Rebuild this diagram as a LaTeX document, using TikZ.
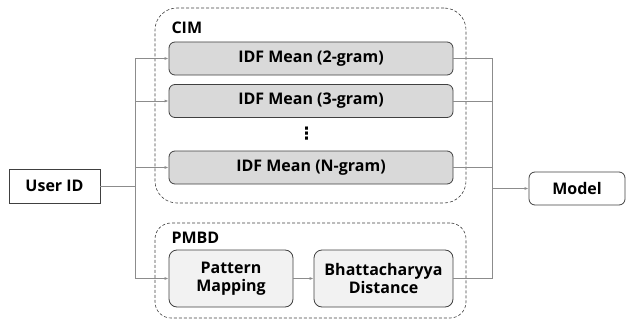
\documentclass[tikz,border=0pt]{standalone}
\usepackage{fontspec}
\setmainfont{Open Sans}
\newfontfamily\symfont{DejaVu Sans}
\usepackage{tikz}
\usetikzlibrary{arrows.meta,calc,positioning}

\definecolor{wiregray}{HTML}{8C8C8C}
\definecolor{edgegray}{HTML}{404040}
\definecolor{darkfill}{HTML}{D9D9D9}
\definecolor{lightfill}{HTML}{F2F2F2}

\begin{document}
\begin{tikzpicture}[x=1pt,y=-1pt,
  font=\fontsize{16}{18}\selectfont\bfseries,
  plain/.style={draw=edgegray,line width=0.8pt,minimum width=91pt,minimum height=34pt,inner sep=0pt},
  idfbox/.style={draw=edgegray,line width=0.8pt,fill=darkfill,rounded corners=6pt,minimum width=284pt,minimum height=33pt,inner sep=0pt},
  stepbox/.style={draw=edgegray,line width=0.8pt,fill=lightfill,rounded corners=8pt,minimum height=57pt,inner sep=0pt,align=center},
  group/.style={draw=edgegray,densely dashed,line width=0.6pt,minimum width=311pt,inner sep=0pt},
  wire/.style={draw=wiregray,line width=0.8pt},
  link/.style={wire,-{Latex[length=4pt,width=3pt]}}]
\useasboundingbox (0,0) rectangle (626,321);
% containers
\node[group,rounded corners=22pt,minimum height=195pt] (cim) at (310.5,105.5) {};
\node[group,rounded corners=16pt,minimum height=95pt] (pmbd) at (310.5,270.5) {};
\node[anchor=west] (cimlabel) at (168,28) {CIM};
\node[anchor=west] (pmbdlabel) at (168,238) {PMBD};
% blocks
\node[plain] (uid) at (54.5,186) {User ID};
\node[idfbox] (idf2) at (311,58.5) {IDF Mean (2-gram)};
\node[idfbox] (idf3) at (311,101) {IDF Mean (3-gram)};
\node[font=\symfont\fontsize{17}{17}\selectfont\bfseries] (dots) at (306.5,134) {⋮};
\node[idfbox] (idfn) at (311,167.5) {IDF Mean (N-gram)};
\node[stepbox,minimum width=124pt] (pm) at (231,278.5) {Pattern\\Mapping};
\node[stepbox,minimum width=139pt] (bd) at (383.5,278.5) {Bhattacharyya\\Distance};
\node[plain,rounded corners=6pt,minimum width=96pt,minimum height=33pt] (model) at (577,188.5) {Model};
% wiring
\coordinate (split) at (135,186);
\coordinate (merge) at (492,188.5);
\draw[wire] (uid.east) -- (split);
\draw[link] (split) |- (idf2.west);
\draw[link] (split) |- (idf3.west);
\draw[link] (split) |- (idfn.west);
\draw[link] (split) |- (pm.west);
\draw[link] (pm) -- (bd);
\draw[wire] (idf2.east) -| (merge);
\draw[wire] (idf3.east) -| (merge);
\draw[wire] (idfn.east) -| (merge);
\draw[wire] (bd.east) -| (merge);
\draw[link] (merge) -- (model.west);
\end{tikzpicture}
\end{document}
